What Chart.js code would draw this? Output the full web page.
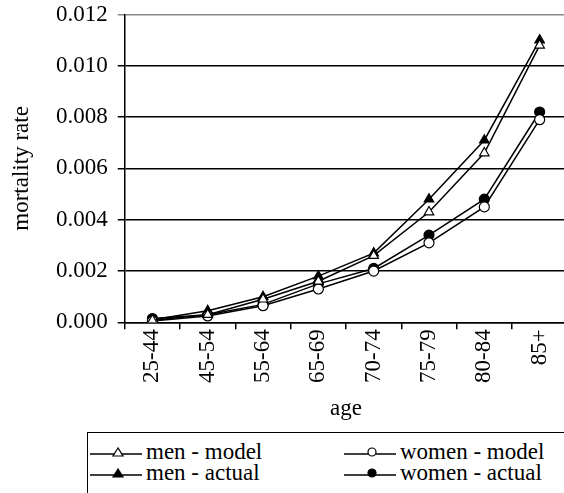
<!DOCTYPE html>
<html>
<head>
<meta charset="utf-8">
<script src="https://cdn.jsdelivr.net/npm/chart.js@4/dist/chart.umd.min.js"></script>
<style>
  body { margin: 0; background: #fff; width: 564px; height: 493px; overflow: hidden; position: relative; font-family: "Liberation Serif", "Times New Roman", serif; }
  #wrap { position: absolute; left: 0; top: 0; width: 574px; height: 420px; }
  #legend { position: absolute; left: 87px; top: 432px; width: 480px; height: 70px; border-top: 1.5px solid #000; border-left: 1.5px solid #000; box-sizing: border-box; font-size: 23px; line-height: 21px; }
  .item { position: absolute; display: flex; align-items: center; white-space: nowrap; }
  .item svg { margin-right: 4px; }
</style>
</head>
<body>
<div id="wrap"><canvas id="chart"></canvas></div>
<div id="legend"></div>
<script>
// data
const ages = ["25-44", "45-54", "55-64", "65-69", "70-74", "75-79", "80-84", "85+"];
const menModel = [0.00008, 0.0003, 0.0009, 0.0016, 0.0026, 0.0043, 0.0066, 0.0108];
const menActual = [0.0001, 0.00045, 0.001, 0.0018, 0.0027, 0.0048, 0.0071, 0.0110];
const womenModel = [0.00005, 0.00025, 0.00065, 0.0013, 0.0020, 0.0031, 0.0045, 0.0079];
const womenActual = [0.00015, 0.0003, 0.0007, 0.0015, 0.0021, 0.0034, 0.0048, 0.0082];
const yTicks = [0, 0.002, 0.004, 0.006, 0.008, 0.010, 0.012];

const series = [
    { label: "men - model", data: menModel, style: "triangle", fill: "#fff", r: 5.5 },
    { label: "women - model", data: womenModel, style: "circle", fill: "#fff", r: 5 },
    { label: "men - actual", data: menActual, style: "triangle", fill: "#000", r: 5.5 },
    { label: "women - actual", data: womenActual, style: "circle", fill: "#000", r: 5 }
];

const font = { family: "'Liberation Serif', 'Times New Roman', serif", size: 23, lineHeight: 1.0 };

new Chart(document.getElementById("chart"), {
    type: "line",
    data: {
        labels: ages,
        datasets: series.map(s => ({
            label: s.label,
            data: s.data,
            borderColor: "#000",
            borderWidth: 1.5,
            pointStyle: s.style,
            pointRadius: s.r,
            pointBackgroundColor: s.fill,
            pointBorderColor: "#000",
            pointBorderWidth: 1.2,
            tension: 0,
            fill: false
        }))
    },
    options: {
        responsive: true,
        maintainAspectRatio: false,
        animation: false,
        layout: { padding: { top: 8, right: 0, left: 10, bottom: 0 } },
        plugins: { legend: { display: false }, tooltip: { enabled: false } },
        scales: {
            x: {
                offset: true,
                grid: { display: true, offset: true, drawOnChartArea: false, color: "#000", tickLength: 7, lineWidth: 1.5 },
                border: { color: "#000", width: 1.5 },
                ticks: { color: "#000", font, minRotation: 90, maxRotation: 90, autoSkip: false, padding: 0 },
                title: { display: true, text: "age", color: "#000", font, padding: { top: 14, bottom: 0 } }
            },
            y: {
                min: 0,
                max: 0.012,
                afterBuildTicks: axis => { axis.ticks = yTicks.map(v => ({ value: v })); },
                afterFit: axis => { axis.paddingTop -= 7; axis.paddingBottom -= 7; },
                grid: { color: ctx => ctx.tick && ctx.tick.value === 0.012 ? "#888" : "#000", lineWidth: 1.5, tickLength: 7 },
                border: { color: "#000", width: 1.5 },
                ticks: { color: "#000", font, padding: 10, callback: v => v.toFixed(3) },
                title: { display: true, text: "mortality rate", color: "#000", font, padding: { top: 0, bottom: 13 } }
            }
        }
    }
});

// legend in two columns, like the original
const legend = document.getElementById("legend");
const positions = [[2, 8], [256, 8], [2, 29], [256, 29]];
series.forEach((s, i) => {
    const el = document.createElement("div");
    el.className = "item";
    el.style.left = positions[i][0] + "px";
    el.style.top = positions[i][1] + "px";
    const marker = s.style === "triangle"
        ? `<polygon points="28,5 23,13 33,13" fill="${s.fill}" stroke="#000" stroke-width="1.2"/>`
        : `<circle cx="28" cy="9" r="4" fill="${s.fill}" stroke="#000" stroke-width="1.2"/>`;
    el.innerHTML = `<svg width="52" height="18"><line x1="0" y1="11" x2="52" y2="11" stroke="#000" stroke-width="1.5"/>${marker}</svg><span>${s.label}</span>`;
    legend.appendChild(el);
});
</script>
</body>
</html>
